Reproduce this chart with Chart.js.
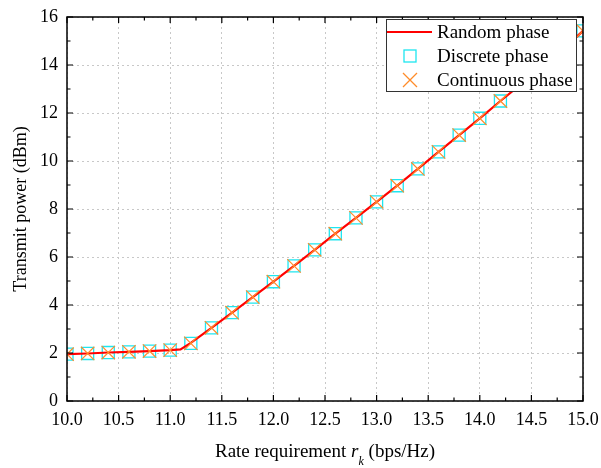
<!DOCTYPE html>
<html><head><meta charset="utf-8">
<script src="https://cdn.jsdelivr.net/npm/chart.js@4/dist/chart.umd.min.js"></script>
<style>html,body{margin:0;padding:0;background:#fff}#wrap{width:601px;height:468px}</style>
</head><body><div id="wrap"><canvas id="c" width="601" height="468"></canvas></div>
<script>
const rates = [10.0,10.2,10.4,10.6,10.8,11.0,11.2,11.4,11.6,11.8,12.0,12.2,12.4,12.6,12.8,13.0,13.2,13.4,13.6,13.8,14.0,14.2,14.4,14.6,14.8,15.0];
const discretePhase   = [1.95,1.98,2.02,2.05,2.08,2.12,2.40,3.05,3.68,4.33,4.97,5.63,6.30,6.97,7.63,8.30,8.97,9.67,10.38,11.08,11.78,12.50,13.20,13.90,14.62,15.42];
const continuousPhase = [1.95,1.98,2.02,2.05,2.08,2.12,2.40,3.05,3.68,4.33,4.97,5.63,6.30,6.97,7.63,8.30,8.97,9.67,10.38,11.08,11.78,12.50,13.20,13.90,14.62,15.42];
const randomRates = [10.0,10.2,10.4,10.6,10.8,11.0,11.1,11.2,11.4,11.6,11.8,12.0,12.2,12.4,12.6,12.8,13.0,13.2,13.4,13.6,13.8,14.0,14.2,14.4,14.6,14.8,15.0];
const randomPhase = [1.95,1.98,2.02,2.05,2.08,2.12,2.15,2.42,3.05,3.68,4.33,4.97,5.63,6.30,6.97,7.63,8.30,8.97,9.67,10.38,11.08,11.78,12.50,13.20,13.90,14.62,15.42];
const xTicks = [10.0,10.5,11.0,11.5,12.0,12.5,13.0,13.5,14.0,14.5,15.0];
const yTicks = [0,2,4,6,8,10,12,14,16];
const seriesNames = ['Random phase','Discrete phase','Continuous phase'];

const SERIF = '"Liberation Serif","Times New Roman",serif';
const RED = '#ff0000', CYAN = '#1ee6f0', ORANGE = '#ff8c2a';

const frame = {
  id:'frame',
  afterDatasetsDraw(chart){
    const {ctx, chartArea:a, scales:{x,y}} = chart;
    ctx.save();
    ctx.strokeStyle='#000'; ctx.lineWidth=1.5;
    ctx.strokeRect(a.left, a.top, a.right-a.left, a.bottom-a.top);
    ctx.lineWidth=1.2;
    ctx.beginPath();
    for(let v=10; v<=15.0001; v+=0.25){
      const px=x.getPixelForValue(v); const major=Math.abs(v*2-Math.round(v*2))<1e-6; const L=major?6:3.5;
      ctx.moveTo(px,a.bottom); ctx.lineTo(px,a.bottom-L);
      ctx.moveTo(px,a.top); ctx.lineTo(px,a.top+L);
    }
    for(let v=0; v<=16; v+=1){
      const py=y.getPixelForValue(v); const L=(v%2===0)?6:3.5;
      ctx.moveTo(a.left,py); ctx.lineTo(a.left+L,py);
      ctx.moveTo(a.right,py); ctx.lineTo(a.right-L,py);
    }
    ctx.stroke();
    // legend
    const lx=386, ly=19, lw=190, lh=72;
    ctx.fillStyle='#fff'; ctx.fillRect(lx,ly,lw,lh);
    ctx.strokeStyle='#333'; ctx.lineWidth=1; ctx.strokeRect(lx+0.5,ly+0.5,lw,lh);
    ctx.font='19px '+SERIF; ctx.fillStyle='#000'; ctx.textBaseline='middle'; ctx.textAlign='left';
    const rows=[32,56,80];
    ctx.strokeStyle=RED; ctx.lineWidth=2.2; ctx.beginPath(); ctx.moveTo(387,rows[0]); ctx.lineTo(432,rows[0]); ctx.stroke();
    ctx.strokeStyle=CYAN; ctx.lineWidth=1.3; ctx.strokeRect(404,rows[1]-6,12,12);
    ctx.strokeStyle=ORANGE; ctx.lineWidth=1.3; ctx.beginPath();
    ctx.moveTo(403,rows[2]-7); ctx.lineTo(417,rows[2]+7); ctx.moveTo(417,rows[2]-7); ctx.lineTo(403,rows[2]+7); ctx.stroke();
    seriesNames.forEach((n,i)=>ctx.fillText(n,437,rows[i]+1));
    // x title with italic subscript
    const ty=457;
    ctx.fillStyle='#000'; ctx.textBaseline='alphabetic';
    const p1='Rate requirement ', p3=' (bps/Hz)';
    ctx.font='19px '+SERIF; const w1=ctx.measureText(p1).width, w3=ctx.measureText(p3).width;
    ctx.font='italic 19px '+SERIF; const w2=ctx.measureText('r').width;
    ctx.font='italic 12px '+SERIF; const wk=ctx.measureText('k').width;
    const total=w1+w2+wk+w3; let sx=(a.left+a.right)/2-total/2;
    ctx.font='19px '+SERIF; ctx.fillText(p1,sx,ty); sx+=w1;
    ctx.font='italic 19px '+SERIF; ctx.fillText('r',sx,ty); sx+=w2;
    ctx.font='italic 12px '+SERIF; ctx.fillText('k',sx,ty+8); sx+=wk;
    ctx.font='19px '+SERIF; ctx.fillText(p3,sx,ty);
    ctx.restore();
  }
};

new Chart(document.getElementById('c'),{
  type:'scatter',
  data:{datasets:[
    {label:seriesNames[2], data:rates.map((r,i)=>({x:r,y:continuousPhase[i]})), showLine:false, pointStyle:'crossRot', pointRadius:9.5, borderColor:ORANGE, backgroundColor:ORANGE, pointBorderWidth:1.2, order:0},
    {label:seriesNames[0], data:randomRates.map((r,i)=>({x:r,y:randomPhase[i]})), showLine:true, pointRadius:0, borderColor:RED, borderWidth:2.2, order:1},
    {label:seriesNames[1], data:rates.map((r,i)=>({x:r,y:discretePhase[i]})), showLine:false, pointStyle:'rect', pointRadius:8.5, borderColor:CYAN, backgroundColor:'rgba(0,0,0,0)', pointBorderWidth:1.3, order:2}
  ]},
  options:{
    responsive:false, animation:false, devicePixelRatio:1,
    layout:{padding:{left:0,right:18,top:17,bottom:0}},
    plugins:{legend:{display:false}, tooltip:{enabled:false}},
    scales:{
      x:{type:'linear', min:10, max:15,
        afterBuildTicks(s){ s.ticks = xTicks.map(v=>({value:v})); },
        afterFit(s){ s.height = 67; s.paddingLeft = 0; s.paddingRight = 0; },
        ticks:{callback:v=>Number(v).toFixed(1), color:'#000', font:{family:SERIF,size:18}, padding:8, maxRotation:0, autoSkip:false},
        grid:{color:'#c8c8c8', lineWidth:1, drawTicks:false},
        border:{display:false, dash:[2,3]},
        title:{display:false}
      },
      y:{type:'linear', min:0, max:16,
        afterBuildTicks(s){ s.ticks = yTicks.map(v=>({value:v})); },
        afterFit(s){ s.width = 67; s.paddingTop = 0; s.paddingBottom = 0; },
        ticks:{color:'#000', font:{family:SERIF,size:18}, padding:9},
        grid:{color:'#c8c8c8', lineWidth:1, drawTicks:false},
        border:{display:false, dash:[2,3]},
        title:{display:true, text:'Transmit power (dBm)', color:'#000', font:{family:SERIF,size:18}, padding:{top:10,bottom:0}}
      }
    }
  },
  plugins:[frame]
});
</script></body></html>
